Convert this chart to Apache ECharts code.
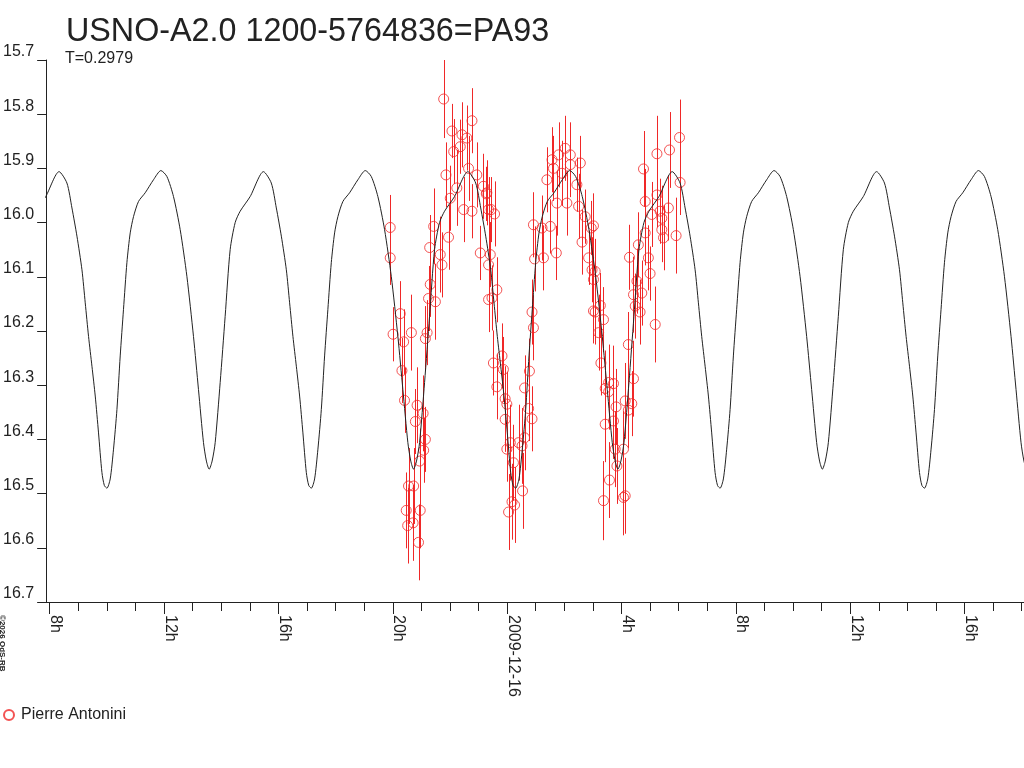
<!DOCTYPE html>
<html>
<head>
<meta charset="utf-8">
<title>USNO-A2.0 1200-5764836=PA93</title>
<script src="https://cdn.jsdelivr.net/npm/echarts@6/dist/echarts.min.js"></script>
<style>
  html, body { margin: 0; padding: 0; background: #fff; }
  #chart { width: 1024px; height: 768px; }
</style>
</head>
<body>
<div id="chart"></div>
<script>
// time axis in hours from 2009-12-15 00:00
const xTickHours = [8, 12, 16, 20, 24, 28, 32, 36, 40];
const xTickLabels = ['8h', '12h', '16h', '20h', '2009-12-16', '4h', '8h', '12h', '16h'];
const xMinorHours = [8, 9, 10, 11, 12, 13, 14, 15, 16, 17, 18, 19, 20, 21, 22, 23, 24, 25, 26, 27, 28, 29, 30, 31, 32, 33, 34, 35, 36, 37, 38, 39, 40, 41, 42];

// model light curve, one cycle, hours after primary minimum
const periodDays = 0.2979;
const minEpochHour = 10.0;
const curveHours = [0, 0.115, 0.231, 0.35, 0.465, 0.58, 0.699, 0.815, 0.93, 1.105, 1.339, 1.629, 1.888, 2.098, 2.329, 2.563, 2.797, 3.028, 3.203, 3.378, 3.48, 3.577, 3.68, 3.787, 3.962, 4.136, 4.311, 4.486, 4.661, 5.01, 5.476, 5.75, 5.926, 6.101, 6.276, 6.391, 6.507, 6.626, 6.741, 6.856, 6.975, 7.06];
const curveMag = [16.49, 16.473, 16.418, 16.345, 16.246, 16.16, 16.074, 16.019, 15.989, 15.961, 15.945, 15.921, 15.904, 15.915, 15.952, 16.013, 16.099, 16.21, 16.308, 16.406, 16.44, 16.455, 16.44, 16.406, 16.295, 16.173, 16.05, 16.0, 15.979, 15.952, 15.906, 15.927, 15.973, 16.025, 16.087, 16.148, 16.21, 16.265, 16.32, 16.388, 16.461, 16.485];

// observations (Pierre Antonini): hour, magnitude, error
const obsHour = [21.78, 22.77, 22.07, 22.42, 22.59, 22.13, 22.36, 21.86, 22.24, 22.65, 22.94, 23.17, 23.27, 22.01, 22.48, 22.77, 23.35, 19.91, 21.43, 21.95,
  21.29, 21.66, 19.91, 23.06, 21.72, 21.31, 21.25, 21.49, 20.26, 23.35, 20.01, 20.65, 20.38, 21.20, 21.14, 20.32, 20.41, 20.85, 20.79, 21.06,
  21.14, 21.08, 20.94, 20.55, 20.73, 20.47, 20.96, 20.52, 20.71, 20.90, 23.29, 23.44, 23.56, 23.41, 23.35, 23.64, 23.47, 24.92, 25.51, 25.22,
  24.96, 25.27, 25.72, 24.87, 25.39, 25.57, 26.03, 25.80, 26.21, 25.62, 25.92, 26.56, 26.21, 26.09, 25.74, 26.44, 26.50, 26.73, 26.94, 26.62,
  26.85, 26.97, 27.02, 24.92, 23.52, 23.82, 23.87, 23.64, 24.78, 24.61, 23.93, 23.99, 23.93, 24.87, 24.75, 24.61, 24.11, 23.99, 24.40, 24.52,
  24.22, 24.54, 24.17, 24.26, 24.05, 30.03, 29.68, 29.24, 28.77, 30.05, 29.24, 28.83, 29.64, 29.35, 29.06, 29.41, 27.02, 28.83, 29.41, 29.91,
  29.47, 28.59, 28.28, 28.94, 27.08, 27.02, 29.00, 28.54, 28.42, 28.71, 28.48, 28.65, 27.26, 27.08, 27.37, 29.18, 27.20, 28.24, 27.28, 28.42,
  27.55, 27.72, 27.43, 27.55, 28.13, 28.36, 27.81, 28.24, 27.72, 27.43, 27.78, 28.07, 27.84, 27.58, 28.13, 28.07, 27.37];
const obsMag = [15.772, 15.812, 15.831, 15.838, 15.844, 15.869, 15.860, 15.912, 15.936, 15.900, 15.912, 15.933, 15.947, 15.955, 15.976, 15.979, 15.976, 16.009, 16.007, 16.027,
  16.046, 16.059, 16.065, 16.056, 16.078, 16.114, 16.140, 16.146, 16.168, 16.142, 16.206, 16.203, 16.220, 16.203, 16.214, 16.273, 16.328, 16.337, 16.367, 16.352,
  16.400, 16.420, 16.440, 16.486, 16.486, 16.531, 16.531, 16.559, 16.554, 16.590, 15.945, 15.976, 15.984, 16.059, 16.078, 16.124, 16.139, 16.004, 16.007, 16.010,
  16.067, 16.065, 16.056, 16.165, 15.921, 15.884, 15.863, 15.875, 15.875, 15.900, 15.909, 15.890, 15.893, 15.964, 15.964, 15.930, 15.970, 15.989, 16.010, 16.036,
  16.065, 16.087, 16.163, 16.194, 16.259, 16.246, 16.271, 16.303, 16.274, 16.305, 16.325, 16.335, 16.363, 16.362, 16.343, 16.397, 16.406, 16.418, 16.406, 16.412,
  16.443, 16.495, 16.515, 16.521, 16.534, 15.843, 15.866, 15.873, 15.901, 15.926, 15.949, 15.961, 15.973, 15.979, 15.985, 15.992, 16.006, 16.019, 16.013, 16.024,
  16.028, 16.041, 16.064, 16.065, 16.090, 16.105, 16.094, 16.108, 16.133, 16.130, 16.154, 16.165, 16.153, 16.165, 16.179, 16.188, 16.203, 16.225, 16.259, 16.288,
  16.295, 16.297, 16.306, 16.312, 16.329, 16.334, 16.340, 16.346, 16.366, 16.372, 16.418, 16.418, 16.449, 16.475, 16.504, 16.507, 16.513];
const obsErr = [0.072, 0.060, 0.050, 0.060, 0.060, 0.060, 0.050, 0.060, 0.070, 0.060, 0.060, 0.060, 0.050, 0.060, 0.060, 0.050, 0.060, 0.060, 0.070, 0.060,
  0.060, 0.070, 0.050, 0.050, 0.060, 0.060, 0.060, 0.070, 0.060, 0.060, 0.050, 0.070, 0.060, 0.060, 0.060, 0.060, 0.060, 0.070, 0.060, 0.070,
  0.060, 0.060, 0.060, 0.070, 0.070, 0.070, 0.070, 0.070, 0.070, 0.070, 0.060, 0.060, 0.060, 0.060, 0.060, 0.060, 0.060, 0.060, 0.050, 0.060,
  0.060, 0.060, 0.050, 0.060, 0.060, 0.060, 0.060, 0.060, 0.060, 0.060, 0.060, 0.050, 0.060, 0.060, 0.060, 0.050, 0.060, 0.050, 0.050, 0.060,
  0.050, 0.060, 0.060, 0.060, 0.060, 0.060, 0.060, 0.060, 0.060, 0.060, 0.060, 0.060, 0.060, 0.060, 0.060, 0.060, 0.070, 0.060, 0.070, 0.070,
  0.070, 0.070, 0.070, 0.070, 0.070, 0.070, 0.070, 0.070, 0.070, 0.060, 0.060, 0.060, 0.060, 0.060, 0.060, 0.060, 0.060, 0.060, 0.060, 0.070,
  0.060, 0.060, 0.060, 0.060, 0.060, 0.060, 0.050, 0.060, 0.070, 0.060, 0.060, 0.060, 0.060, 0.060, 0.060, 0.070, 0.070, 0.060, 0.060, 0.070,
  0.070, 0.070, 0.070, 0.070, 0.070, 0.060, 0.070, 0.070, 0.070, 0.070, 0.070, 0.070, 0.070, 0.070, 0.070, 0.070, 0.073];

const FONT = "'Liberation Sans', Arial, sans-serif";
const INK = '#222';
const RED = '#f02828';

// the model is periodic: lay the read cycle down once per period
function buildModel() {
  let periodH = periodDays * 24;
  let out = [];
  for (let k = -1; k <= 4; k++) {
    for (let i = 0; i < curveHours.length; i++) {
      out.push([minEpochHour + k * periodH + curveHours[i], curveMag[i]]);
    }
  }
  return out;
}

const obsData = obsHour.map((h, i) => [h, obsMag[i], obsErr[i]]);

const myChart = echarts.init(document.getElementById('chart'));
const option = {
  animation: false,
  backgroundColor: '#fff',
  textStyle: { fontFamily: FONT, color: INK },
  title: [
    { text: 'USNO-A2.0 1200-5764836=PA93', left: 61, top: 11,
      textStyle: { fontFamily: FONT, fontSize: 32.3, fontWeight: 'normal', color: INK } },
    { text: 'T=0.2979', left: 60, top: 46,
      textStyle: { fontFamily: FONT, fontSize: 16, fontWeight: 'normal', color: INK } }
  ],
  legend: {
    data: ['Pierre Antonini'],
    left: 3, top: 707, padding: 0, itemWidth: 14, itemHeight: 10,
    textStyle: { fontFamily: FONT, fontSize: 16, color: INK }
  },
  grid: { left: 45, right: 0, top: 60, bottom: 166, containLabel: false },
  xAxis: [
    {
      type: 'value', min: 7.874, max: 42.08,
      axisLine: { lineStyle: { color: INK, width: 1 } },
      axisTick: { show: true, length: 12, customValues: xTickHours, lineStyle: { color: INK } },
      axisLabel: {
        customValues: xTickHours, rotate: -90, margin: 13,
        verticalAlign: 'bottom', lineHeight: 12,
        fontFamily: FONT, fontSize: 16, color: INK,
        formatter: v => xTickLabels[xTickHours.indexOf(Math.round(v))]
      },
      splitLine: { show: false }
    },
    {
      type: 'value', min: 7.874, max: 42.08, position: 'bottom',
      axisLine: { show: false },
      axisTick: { show: true, length: 9, customValues: xMinorHours, lineStyle: { color: INK } },
      axisLabel: { show: false },
      splitLine: { show: false }
    }
  ],
  yAxis: {
    type: 'value', inverse: true, min: 15.7, max: 16.7, interval: 0.1,
    axisLine: { show: true, lineStyle: { color: INK, width: 1 } },
    axisTick: { show: true, length: 9, lineStyle: { color: INK } },
    axisLabel: {
      margin: 12, verticalAlign: 'bottom', fontFamily: FONT, fontSize: 16, color: INK,
      formatter: v => v.toFixed(1)
    },
    splitLine: { show: false }
  },
  series: [
    {
      name: 'Pierre Antonini-err',
      type: 'custom',
      clip: true,
      data: obsData,
      encode: { x: 0, y: 1 },
      renderItem: function (params, api) {
        let x = api.value(0), y = api.value(1), e = api.value(2);
        let p1 = api.coord([x, y - e]);
        let p2 = api.coord([x, y + e]);
        let px = Math.round(p1[0]) + 0.5;  // crisp 1px bar
        return {
          type: 'line',
          shape: { x1: px, y1: p1[1], x2: px, y2: p2[1] },
          style: { stroke: RED, lineWidth: 1 }
        };
      },
      z: 1
    },
    {
      name: 'Pierre Antonini',
      type: 'scatter',
      data: obsData,
      symbol: 'circle',
      symbolSize: 10,
      itemStyle: { color: 'rgba(255,255,255,0)', borderColor: RED, borderWidth: 1 },
      z: 2
    },
    {
      name: 'model',
      type: 'line',
      data: buildModel(),
      showSymbol: false,
      smooth: 0.25,
      clip: true,
      lineStyle: { color: INK, width: 1 },
      z: 3
    }
  ],
  graphic: [
    {
      type: 'text', x: 6, y: 615, rotation: -Math.PI / 2,
      style: { text: '\u00a92026 OdS-RB', fontFamily: FONT, fontSize: 8, fontWeight: 'bold',
        fill: INK, verticalAlign: 'top' }
    }
  ]
};
myChart.setOption(option);
</script>
</body>
</html>
